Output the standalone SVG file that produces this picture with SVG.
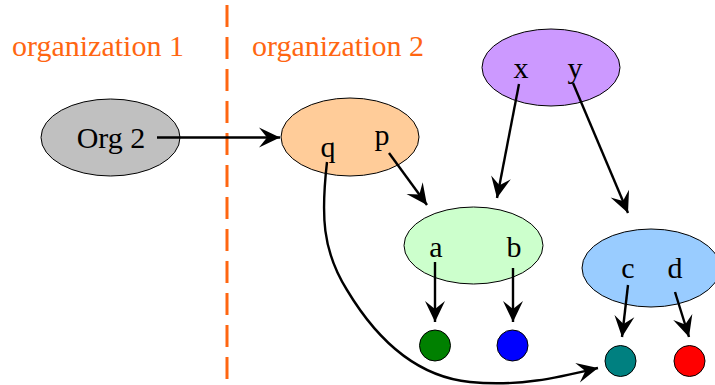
<svg xmlns="http://www.w3.org/2000/svg" width="715" height="385" viewBox="0 0 715 385">
<style>
.lbl{font-family:"Liberation Serif","Times New Roman",serif;font-size:30px;fill:#000;text-anchor:middle}
.org{font-family:"Liberation Serif","Times New Roman",serif;font-size:30px;fill:#ff6611}
.nd{stroke:#000;stroke-width:1}
.edge{fill:none;stroke:#000;stroke-width:2.4;marker-end:url(#arr)}
</style>
<defs>
<marker id="arr" markerUnits="userSpaceOnUse" markerWidth="24" markerHeight="24" viewBox="-22 -11 24 22" refX="0" refY="0" orient="auto">
<path d="M0,0 L-21,-10 L-13,0 L-21,10 Z" fill="#000"/>
</marker>
</defs>
<rect width="715" height="385" fill="#fff"/>
<line x1="227" y1="5" x2="227" y2="385" stroke="#ff6611" stroke-width="3" stroke-dasharray="22,10"/>
<text class="org" x="12" y="56">organization 1</text>
<text class="org" x="252" y="56">organization 2</text>
<g id="org2">
<ellipse class="nd" cx="110.5" cy="137.5" rx="69.5" ry="38.5" fill="#c0c0c0"/>
<text class="lbl" x="111" y="148">Org 2</text>
</g>
<g id="qp">
<ellipse class="nd" cx="350" cy="137" rx="69" ry="39" fill="#ffcc99"/>
<text class="lbl" x="328" y="157">q</text>
<text class="lbl" x="382" y="145">p</text>
</g>
<g id="xy">
<ellipse class="nd" cx="551" cy="67.5" rx="69" ry="38.5" fill="#cc99ff"/>
<text class="lbl" x="521" y="78">x</text>
<text class="lbl" x="575" y="78">y</text>
</g>
<g id="ab">
<ellipse class="nd" cx="473.5" cy="245.5" rx="69.5" ry="38.5" fill="#ccffcc"/>
<text class="lbl" x="436" y="257">a</text>
<text class="lbl" x="514" y="257">b</text>
</g>
<g id="cd">
<ellipse class="nd" cx="651" cy="268" rx="69" ry="39" fill="#99ccff"/>
<text class="lbl" x="628" y="278">c</text>
<text class="lbl" x="675" y="278">d</text>
</g>
<g id="ga"><circle class="nd" cx="435" cy="345.5" r="15.5" fill="#008000"/></g>
<g id="bb"><circle class="nd" cx="512.5" cy="345.5" r="15.5" fill="#0000ff"/></g>
<g id="tc"><circle class="nd" cx="620.5" cy="361" r="15.5" fill="#008080"/></g>
<g id="rd"><circle class="nd" cx="689.5" cy="361" r="15.5" fill="#ff0000"/></g>
<g id="connectors">
<path class="edge" d="M157,137.5 L280,137.5"/>
<path class="edge" d="M389,153 L427,205"/>
<path class="edge" d="M327,162 C321,215 322,250 347,290 C380,345 420,377 470,382 C520,387 560,377 598,368"/>
<path class="edge" d="M519,84 L497,198"/>
<path class="edge" d="M573,83 L628,213"/>
<path class="edge" d="M435,262 L435,322"/>
<path class="edge" d="M513,268 L513,322"/>
<path class="edge" d="M628,285 L622,337"/>
<path class="edge" d="M675,292 L689,337"/>
</g>
</svg>
